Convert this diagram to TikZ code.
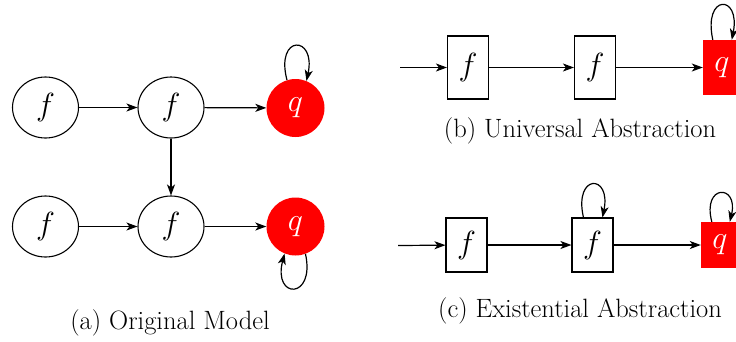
\RequirePackage{fix-cm}
\documentclass[tikz,border=0pt]{standalone}
\usetikzlibrary{arrows.meta,shapes.geometric,calc}
\begin{document}
\begin{tikzpicture}[x=1pt,y=-1pt,
  arr/.style={-{Stealth[length=11pt,width=8pt,inset=3pt]}, line width=1.2pt},
  sym/.style={font=\fontsize{32}{34}\selectfont},
  st/.style={sym, ellipse, draw, line width=1.1pt, minimum width=66pt, minimum height=61pt, inner sep=0pt},
  acc/.style={sym, circle, fill=red, text=white, minimum size=58pt, inner sep=0pt},
  bx/.style={sym, rectangle, draw, line width=1.1pt, minimum width=41pt, inner sep=0pt},
  accbx/.style={sym, rectangle, fill=red, text=white, minimum width=38pt, inner sep=0pt},
  captext/.style={font=\fontsize{26.5}{30}\selectfont}]
\useasboundingbox (0,0) rectangle (736,341);
% (a) Original Model
\node[st]  (a1) at (45.5,107.5) {$f$};
\node[st]  (a2) at (171,107.5) {$f$};
\node[acc] (a3) at (295.5,108) {$q$};
\node[st]  (a4) at (45.5,226.5) {$f$};
\node[st]  (a5) at (171,226.5) {$f$};
\node[acc] (a6) at (295.5,226.5) {$q$};
\draw[arr] (a1) -- (a2);
\draw[arr] (a2) -- (a3);
\draw[arr] (a4) -- (a5);
\draw[arr] (a5) -- (a6);
\draw[arr] (a2) -- (a5);
\draw[arr] (a3.107) .. controls +(-12,-46) and +(10,-46) .. (a3.68);
\draw[arr] (a6.-70) .. controls +(10,46) and +(-12,46) .. (a6.-112);
\node[captext] (capa) at (170,323) {(a) Original Model};
% (b) Universal Abstraction
\coordinate (bin) at (400,67.5);
\node[bx, minimum height=63pt] (b1) at (468,67.5) {$f$};
\node[bx, minimum height=63pt] (b2) at (595,67.5) {$f$};
\node[accbx, minimum height=55pt] (b3) at (722,67.5) {$q$};
\draw[arr] (bin) -- (b1);
\draw[arr] (b1) -- (b2);
\draw[arr] (b2) -- (b3);
\draw[arr] ($(b3.north west)+(10,0)$) .. controls +(-10,-46) and +(9,-46) .. ($(b3.north west)+(29,0)$);
\node[captext] (capb) at (580,131) {(b) Universal Abstraction};
% (c) Existential Abstraction
\coordinate (cin) at (398,245.5);
\node[bx, minimum height=54pt] (c1) at (466.5,245) {$f$};
\node[bx, minimum height=54pt] (c2) at (592.5,245) {$f$};
\node[accbx, minimum height=46pt] (c3) at (720,245) {$q$};
\draw[arr] (cin) -- (c1);
\draw[arr] (c1) -- (c2);
\draw[arr] (c2) -- (c3);
\draw[arr] ($(c2.north west)+(12,0)$) .. controls +(-10,-44) and +(9,-44) .. ($(c2.north west)+(31,0)$);
\draw[arr] ($(c3.north west)+(11,0)$) .. controls +(-10,-38) and +(9,-38) .. ($(c3.north west)+(29,0)$);
\node[captext] (capc) at (580,311) {(c) Existential Abstraction};
\end{tikzpicture}
\end{document}
